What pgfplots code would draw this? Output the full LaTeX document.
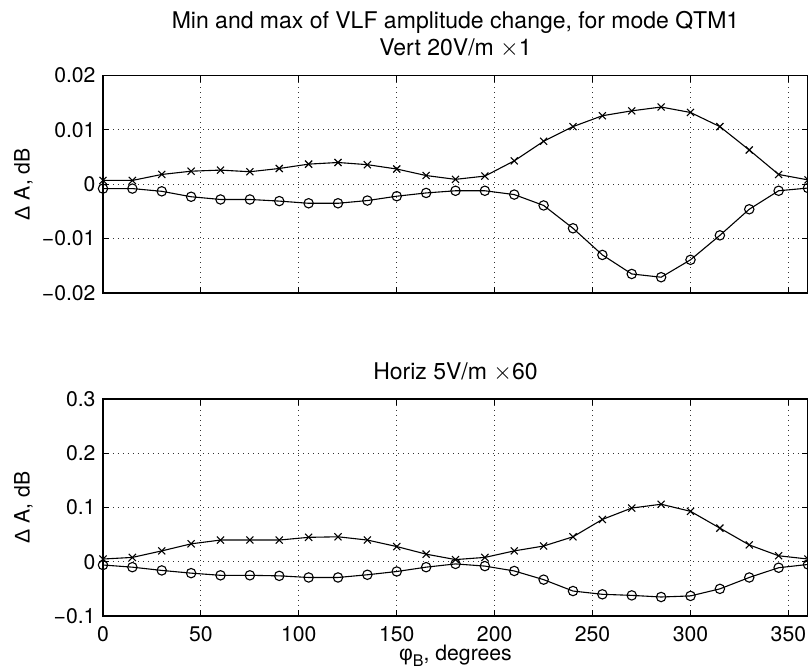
\documentclass[border=0pt]{standalone}
\usepackage{fontspec}
\setmainfont{TeX Gyre Heros}
\newfontfamily\lib{Liberation Sans}
\usepackage{pgfplots}
\pgfplotsset{compat=1.18}
\pgfplotsset{
  mystyle/.style={
    scale only axis, width=352.5pt,
    xmin=0, xmax=360,
    xtick={0,50,100,150,200,250,300,350},
    scaled y ticks=false, scaled x ticks=false,
    grid=major,
    major grid style={black!80, line width=0.45pt, dash pattern=on 0.5pt off 2pt},
    tick align=inside,
    major tick length=3.2pt,
    tick style={black, line width=0.5pt},
    axis line style={line width=0.6pt},
    clip=false,
    every axis y label/.style={at={(axis description cs:-0.1128,0.5)}, rotate=90, anchor=center},
    every axis x label/.style={at={(axis description cs:0.5,0)}, anchor=base, yshift=-22.2pt, inner sep=0pt},
    every axis title/.style={at={(axis description cs:0.5,1)}, anchor=base, yshift=9.75pt, font=\fontsize{11.5}{13}\selectfont},
    xticklabel style={inner sep=0pt, yshift=-5pt},
  },
  maxline/.style={black, line width=0.55pt, mark=x, mark size=2.5pt, mark options={line width=0.55pt}},
  minline/.style={black, line width=0.55pt, mark=o, mark size=2.35pt, mark options={line width=0.55pt}},
}
\begin{document}
\fontsize{10.6}{12.5}\selectfont
\begin{tikzpicture}
\useasboundingbox (-51.5pt,-296.25pt) rectangle (352.5pt,37.75pt);
\begin{axis}[mystyle, at={(0,0)}, anchor=north west, height=108.75pt,
  ymin=-0.02, ymax=0.02,
  ytick={-0.02,-0.01,0,0.01,0.02},
  yticklabels={−0.02,−0.01,0,0.01,0.02},
  xticklabels={},
  ylabel={{\lib Δ} A, dB},
  title={Vert 20V/m $\times$1}]
\addplot[maxline] table {
0 0.0007
15 0.0007
30 0.0018
45 0.0024
60 0.0026
75 0.0023
90 0.0029
105 0.0037
120 0.0040
135 0.0036
150 0.0028
165 0.0016
180 0.0009
195 0.0015
210 0.0043
225 0.0079
240 0.0106
255 0.0126
270 0.0135
285 0.0142
300 0.0132
315 0.0106
330 0.0063
345 0.0018
360 0.0008
};
\addplot[minline] table {
0 -0.0008
15 -0.0008
30 -0.0013
45 -0.0023
60 -0.0028
75 -0.0028
90 -0.0031
105 -0.0035
120 -0.0035
135 -0.0030
150 -0.0022
165 -0.0016
180 -0.0012
195 -0.0012
210 -0.0019
225 -0.0039
240 -0.0081
255 -0.0130
270 -0.0165
285 -0.0171
300 -0.0139
315 -0.0094
330 -0.0046
345 -0.0012
360 -0.0007
};
\node[anchor=base, yshift=23.25pt, font=\fontsize{11.5}{13}\selectfont] at (rel axis cs:0.5,1) {Min and max of VLF amplitude change, for mode QTM1};
\end{axis}
\begin{axis}[mystyle, at={(0,-161.75pt)}, anchor=north west, height=108.5pt,
  ymin=-0.1, ymax=0.3,
  ytick={-0.1,0,0.1,0.2,0.3},
  yticklabels={−0.1,0,0.1,0.2,0.3},
  xticklabels={0,50,100,150,200,250,300,350},
  ylabel={{\lib Δ} A, dB},
  xlabel={{\lib φ}\raisebox{-3pt}{\fontsize{8}{9}\selectfont B}, degrees},
  title={Horiz 5V/m $\times$60}]
\addplot[maxline] table {
0 0.005
15 0.008
30 0.020
45 0.033
60 0.040
75 0.040
90 0.040
105 0.045
120 0.046
135 0.040
150 0.028
165 0.014
180 0.004
195 0.008
210 0.020
225 0.029
240 0.046
255 0.078
270 0.099
285 0.106
300 0.093
315 0.062
330 0.031
345 0.011
360 0.005
};
\addplot[minline] table {
0 -0.006
15 -0.010
30 -0.016
45 -0.021
60 -0.025
75 -0.025
90 -0.026
105 -0.029
120 -0.029
135 -0.024
150 -0.018
165 -0.010
180 -0.004
195 -0.008
210 -0.017
225 -0.033
240 -0.054
255 -0.060
270 -0.062
285 -0.065
300 -0.063
315 -0.050
330 -0.029
345 -0.011
360 -0.005
};
\end{axis}
\end{tikzpicture}
\end{document}
